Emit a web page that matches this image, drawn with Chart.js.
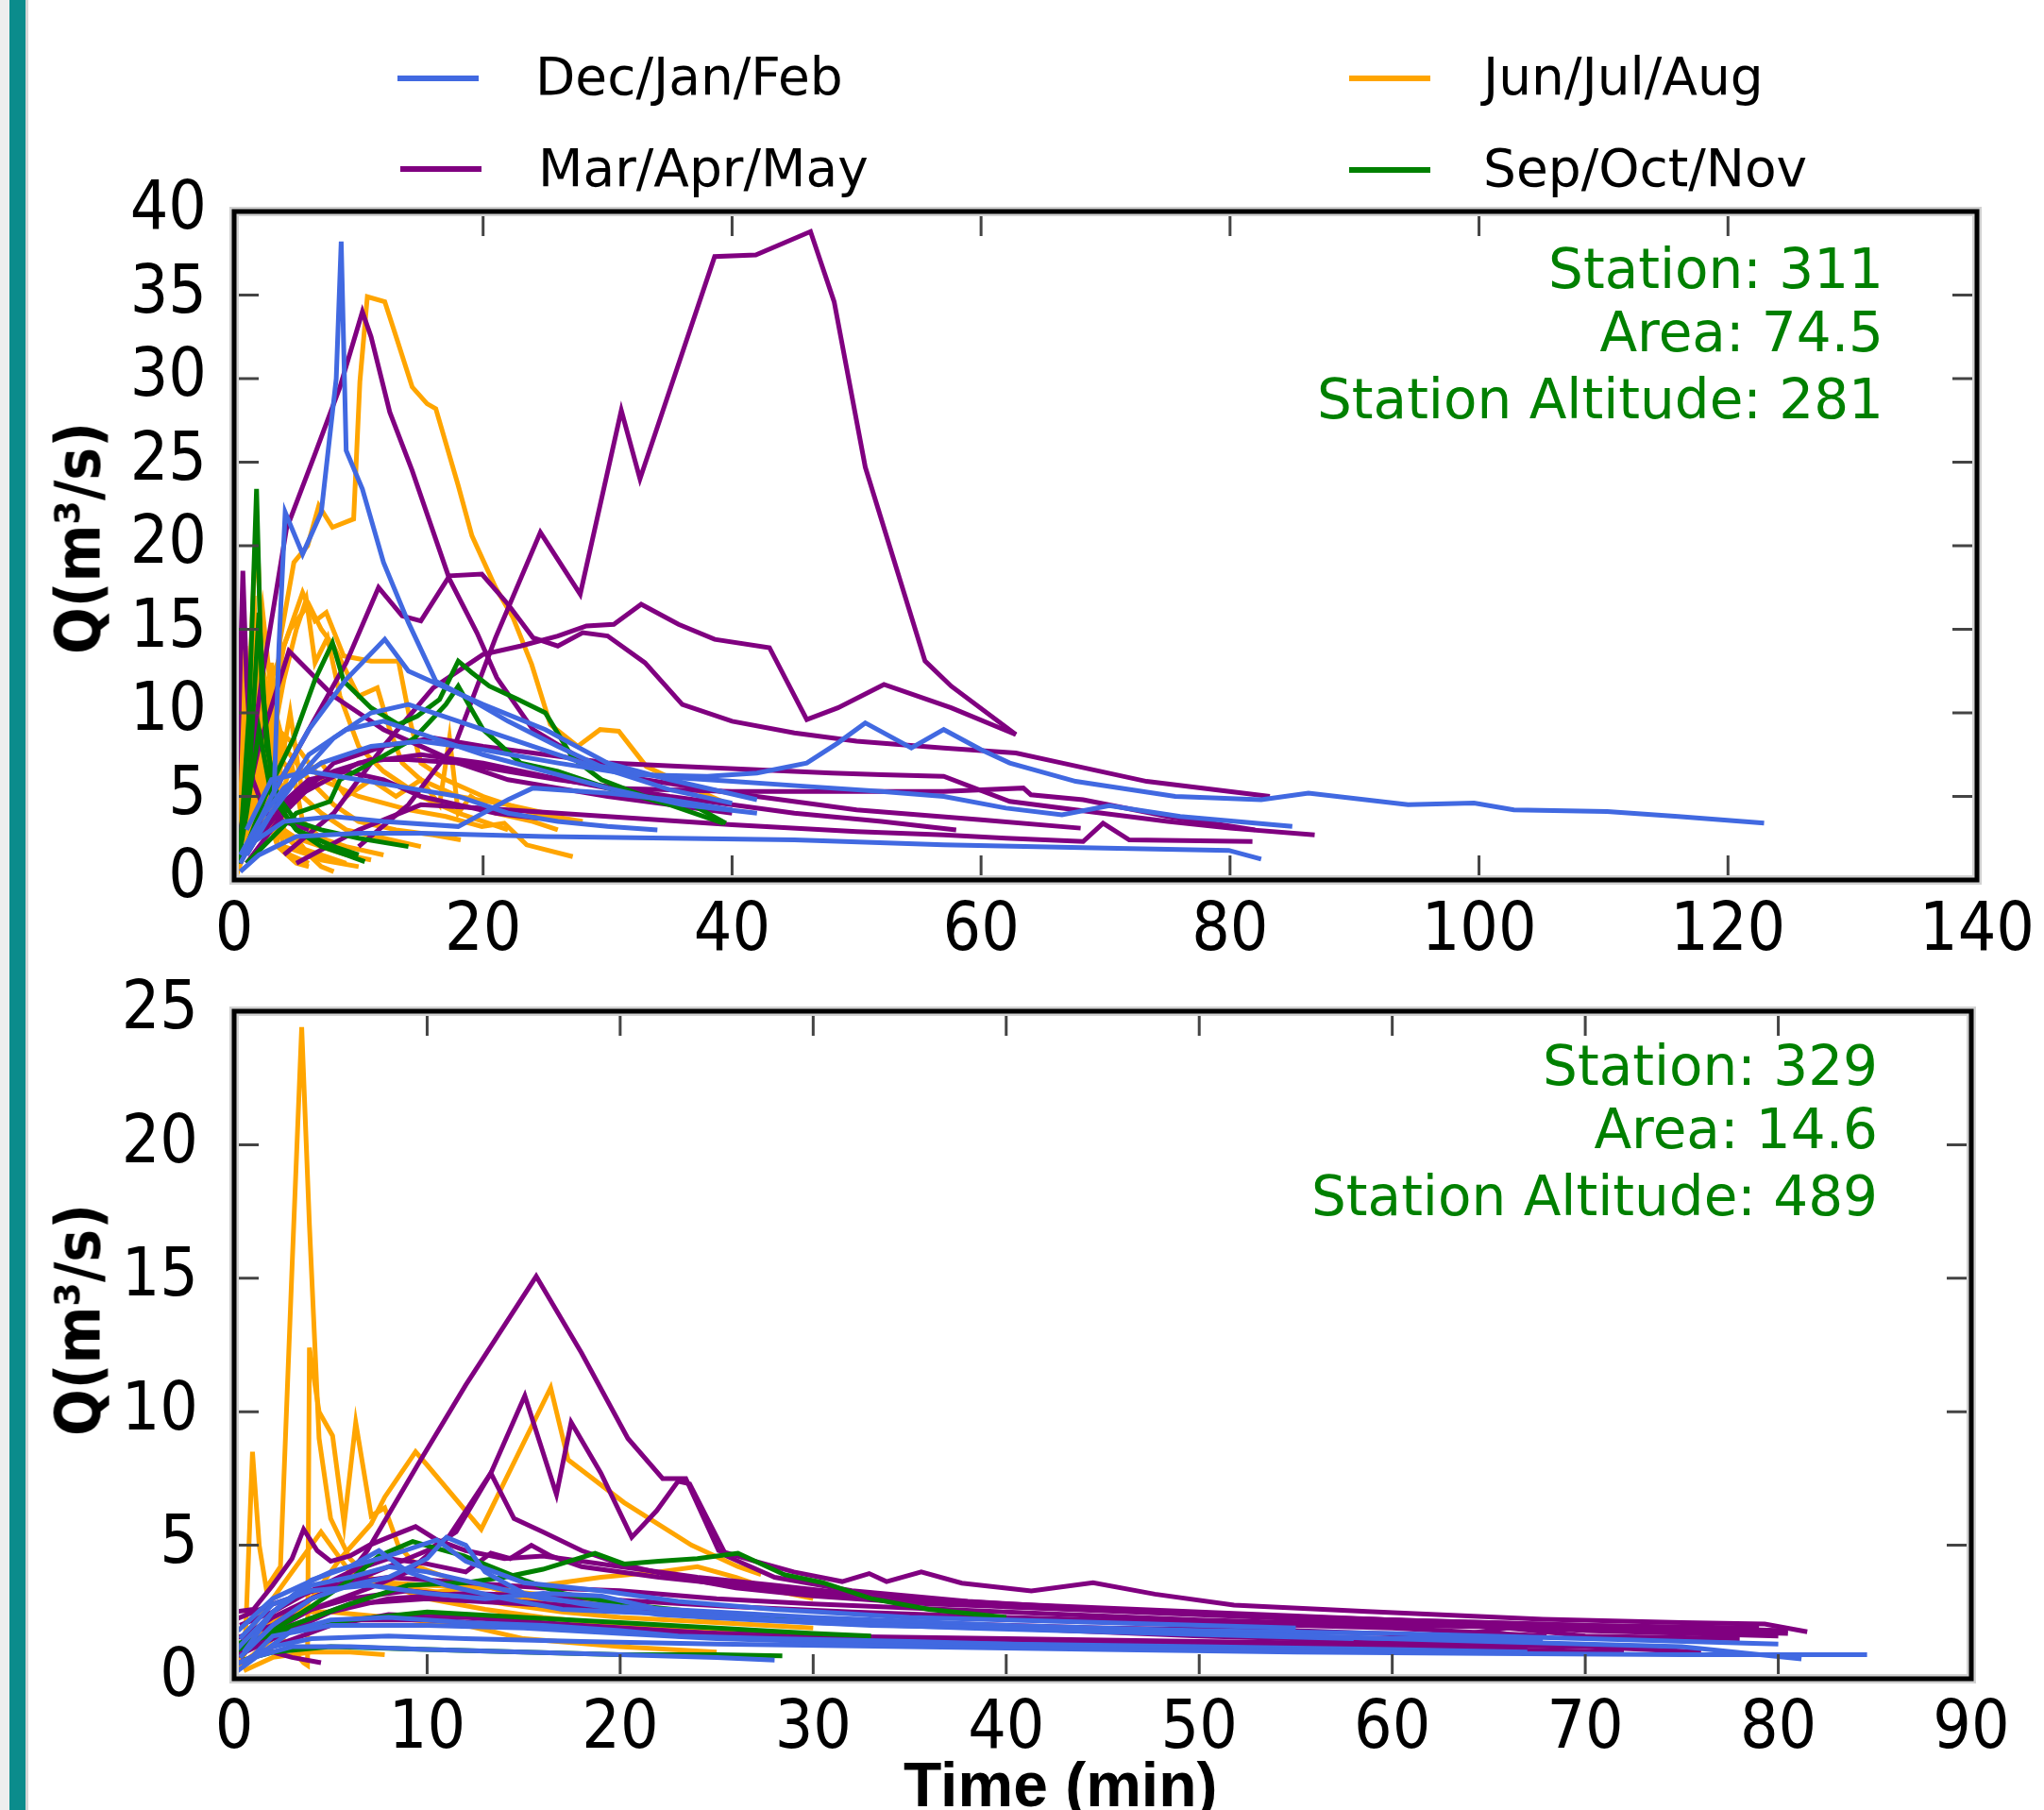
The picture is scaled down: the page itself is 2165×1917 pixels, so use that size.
<!DOCTYPE html>
<html>
<head>
<meta charset="utf-8">
<script src="https://cdn.jsdelivr.net/npm/chart.js@4.4.1/dist/chart.umd.min.js"></script>
<style>
html, body { margin: 0; padding: 0; background: #fff; }
body { width: 2165px; height: 1917px; position: relative; overflow: hidden; font-family: "DejaVu Sans", sans-serif; }
.abs { position: absolute; white-space: nowrap; line-height: 1; }
.info { color: #008000; font-size: 58px; text-align: right; }
.ytitle { font-weight: bold; font-size: 60px; transform: translate(-50%, -50%) rotate(-90deg); }
.leg-line { position: absolute; height: 6px; }
.leg-text { position: absolute; font-size: 55px; line-height: 1; white-space: nowrap; color: #000; }
</style>
</head>
<body>
<div class="abs" style="left:0;top:0;width:10px;height:1917px;background:#eeeeee"></div>
<div class="abs" style="left:10px;top:0;width:17px;height:1917px;background:#0b8c8c"></div>
<div class="abs" style="left:27px;top:0;width:3px;height:1917px;background:#d6d6d6"></div>

<div id="legend"></div>

<canvas id="topChart" width="2165" height="880" style="position:absolute;left:0;top:150px"></canvas>
<canvas id="bottomChart" width="2165" height="880" style="position:absolute;left:0;top:1000px"></canvas>

<div class="abs info" style="right:170px;top:256px">Station: 311</div>
<div class="abs info" style="right:170px;top:323px">Area: 74.5</div>
<div class="abs info" style="right:170px;top:394px">Station Altitude: 281</div>

<div class="abs info" style="right:176px;top:1100px">Station: 329</div>
<div class="abs info" style="right:176px;top:1167px">Area: 14.6</div>
<div class="abs info" style="right:176px;top:1238px">Station Altitude: 489</div>

<div class="abs ytitle" style="left:83px;top:570px">Q(m³/s)</div>
<div class="abs ytitle" style="left:83px;top:1398px">Q(m³/s)</div>
<div class="abs" style="left:957px;top:1857px;font-family:'Liberation Sans',sans-serif;font-weight:bold;font-size:66px">Time (min)</div>

<script>
// seasons and colours
const seasons = ["Dec/Jan/Feb", "Mar/Apr/May", "Jun/Jul/Aug", "Sep/Oct/Nov"];
const seasonColors = ["#4169E1", "#800080", "#FFA500", "#008000"];

// axis ticks
const topXTicks = [0, 20, 40, 60, 80, 100, 120, 140];
const topYTicks = [0, 5, 10, 15, 20, 25, 30, 35, 40];
const bottomXTicks = [0, 10, 20, 30, 40, 50, 60, 70, 80, 90];
const bottomYTicks = [0, 5, 10, 15, 20, 25];

// station 311 hydrographs: [time (min), Q (m3/s)]
const topDJF = [
  [[3.2,5],[3.6,14],[4.1,22],[5.5,19.5],[7,22],[8.2,30],[8.6,38.2],[9,25.7],[10.3,23.4],[12,19],[14,15.4],[16.2,11.9],[19,10.8],[22,9.5],[26,8],[30,6.6],[35,5.4],[40,4.6]],
  [[0.5,1.5],[2,3.5],[4,5.5],[7,7],[11,8],[15,8.3],[20,7.8],[26,7],[32,6.3],[38,6.2],[42,6.4],[46,7],[48.5,8.2],[50.7,9.4],[54.4,7.9],[57,9],[60,7.8],[62.3,7],[67.6,5.9],[75.6,5],[82.5,4.8],[86.3,5.2],[94.3,4.5],[99.6,4.6],[102.8,4.2],[110.3,4.1],[116,3.8],[122.9,3.4]],
  [[0.5,1],[2,3],[5,6],[8,8.5],[11,10],[14,10.5],[18,9.5],[22,8.5],[28,7],[34,6.2],[40,5.9],[46,5.6],[52,5.3],[57,5],[62,4.3],[66.5,3.9],[70.3,4.45],[76,3.8],[85,3.2]],
  [[0.5,0.5],[2,1.5],[5,2.6],[10,2.8],[15,2.8],[25,2.6],[35,2.5],[45,2.4],[57,2.1],[70,1.9],[79.9,1.77],[82.5,1.25]],
  [[1,2],[3,5],[6,9],[9,12],[12.1,14.4],[14,12.5],[17,11.5],[20,10.5],[25,9],[30,7],[35,6],[42,4.8]],
  [[1,1.5],[3,4],[6,7.5],[9,9],[12,9.5],[16,8.5],[20,7.5],[25,6.5],[30,5.5],[36,4.5],[42,4]],
  [[1,3],[3,6],[6,6.5],[10,6],[14,5.5],[18,5],[22,4],[26,3.5],[30,3.2],[34,3]],
  [[1,2],[4,3.5],[8,3.8],[12,3.5],[18,3.2],[22,4.8],[24,5.5],[30,5.2],[35,4.8],[40,4.2]]
];
const topMAM = [
  [[10,2],[14,4.5],[17.8,8.2],[21,14.5],[24.6,20.8],[27.8,17.1],[31.1,28.1],[32.6,24],[38.6,37.3],[41.9,37.4],[46.3,38.8],[48.2,34.6],[50.7,24.7],[55.5,13.1],[57.6,11.6],[62.8,8.7]],
  [[0.3,1.5],[2.2,11.9],[4.2,21],[6.5,25.5],[8.5,29.5],[10.3,34],[11,32.5],[12.5,28],[14.3,24.5],[17.3,18],[19.5,14.8],[21.1,12.1],[24,9],[28,7.2],[33,6],[40,5.2],[50,4.2],[60,3.6],[68,3.1]],
  [[0.5,1],[3,5],[6,9],[9,13],[11.6,17.5],[13.5,15.8],[15,15.5],[17.3,18.2],[19.9,18.3],[22,16.5],[24,14.5],[26,14],[28,14.8],[30,14.6],[33,13],[36,10.5],[40,9.5],[45,8.8],[50,8.3],[57,7.9],[62.8,7.6],[66.5,7],[73.3,5.9],[83.2,5]],
  [[4,1.5],[8,4],[12,8],[16,11.5],[20,13.5],[23,14],[26,14.6],[28.3,15.2],[30.5,15.3],[32.7,16.5],[35.7,15.3],[38.6,14.4],[43,13.9],[46,9.6],[48.5,10.3],[52.2,11.7],[57.6,10.3],[62.8,8.7]],
  [[1,1],[4,4],[8,7],[12,8],[16,8.5],[20,8],[25,7.5],[30,7],[36,6.8],[42,6.6],[48,6.4],[52,6.3],[57,6.2],[62.3,4.7],[67.6,4.2],[75,3.5],[80,3.1],[86.8,2.7]],
  [[1,2],[5,5],[10,7],[15,7.5],[20,7],[25,6.2],[30,5.5],[40,5.3],[50,5.3],[57,5.3],[63.4,5.5],[64,5.1],[68.2,4.8],[75,3.8],[82,3]],
  [[5,1],[10,3],[15,4.5],[20,4.3],[30,3.8],[40,3.3],[50,2.9],[57,2.7],[62,2.5],[68.2,2.3],[69.8,3.4],[71.9,2.4],[81.8,2.3]],
  [[0.5,3],[2,8],[4.4,13.7],[6,12.5],[8,11],[10,10],[12,9],[15,8],[18,7],[22,6],[26,5.5],[30,5],[35,4.5],[40,4]],
  [[0,2],[0.4,10],[0.7,18.5],[1,12],[1.5,6],[2.5,4],[4,3.5],[6,3]],
  [[1,1.5],[3,4],[6,6],[9,6.5],[12,6],[15,5],[18,4.5],[21,4],[24.4,3.7]],
  [[0,1.2],[1,1.8],[2.5,3],[4,4.5],[6,5.8],[8,6.5],[11,7.2],[14,7.2],[18,7],[22,6.5],[26,6],[30,5.6],[35,5],[40,4.5],[45,4],[52,3.5],[58,3]]
];
const topJJA = [
  [[2.5,3],[3.2,9],[3.7,14.4],[4.8,19],[5.9,20],[6.8,22.4],[7.9,21.1],[9.6,21.6],[10.1,29.8],[10.7,34.9],[12.1,34.6],[13.1,32.3],[14.3,29.5],[15.5,28.5],[16.2,28.2],[18,23.6],[19.1,20.6],[21,17.5],[22.4,15.7],[23.9,12.9],[25.4,9.3],[27.6,8],[29.4,9],[30.9,8.9],[33.1,6.8],[36.8,5.5],[39.5,4.6]],
  [[1,2],[2,6],[3,10],[4,14],[5.5,17.2],[6.5,15.5],[7.4,16],[8.8,13.4],[11,13.1],[13.2,13.1],[14.2,9.3],[15,7],[17,6],[20,5],[24,4],[28,3.5]],
  [[0.5,2],[1.5,7],[2.5,12],[3.5,9],[5,8],[7,6],[10,5],[14,4.2],[17,3.8],[19.9,3.2],[21.7,3.4],[23.5,2.1],[27.2,1.4]],
  [[0.5,3],[1.5,10],[2.3,16],[3,11],[4,8],[6,6],[8,4.5],[10,3.5],[13,3],[16,2.7],[18.2,2.4]],
  [[1,3],[2,8],[3,12],[4.5,15],[6,16.5],[7,15],[8,14],[9,12.5],[10,11],[11.5,11.5],[12.5,9],[13.5,7],[15,6],[18,5],[22,4.5],[25,4]],
  [[1,5],[2,12],[3,8],[5,6],[7,7],[9,5],[11,6],[13,5],[15,6],[16.5,4.5],[17.3,8.5],[18,4],[19,5],[21,4],[24,3.5],[26,3]],
  [[0.3,1],[1,8],[1.8,21.5],[2.2,14],[2.8,6],[3.5,3],[5,2],[7,1.5],[9,1]],
  [[0.2,0.3],[1,2],[2,5],[3,4],[4,3],[5,2.5],[6,1.5],[7,0.8],[8,0.5]],
  [[0.2,1],[0.8,6],[1.3,13],[1.8,9],[2.5,5],[3.5,3],[5,2.5],[7,2],[9,1.5],[11,1.2]],
  [[0.1,0.5],[0.5,5],[0.9,14],[1.2,8],[1.6,17],[2,7],[2.6,4],[3.5,2],[5,1],[6,0.8]],
  [[0.2,2],[0.7,12],[1.1,6],[1.5,11],[2,5],[2.8,9],[3.3,4],[4,2],[6,1.5],[8,1.2]],
  [[2,3],[3,8],[4,12],[5,15],[5.8,16.8],[6.5,13],[7.5,14.5],[8.5,11],[10,8],[12,6.5],[15,5],[18,4],[22,3]],
  [[0.3,1],[1,4],[1.7,10],[2.4,6],[3,13],[3.8,7],[4.5,10],[5.5,5],[7,4],[9,3],[12,2.5],[15,2]],
  [[0,0.5],[0.4,9],[0.8,3],[1.2,12],[1.6,4],[2.1,10],[2.5,3],[3,8],[3.5,2],[4.5,1.5],[6,1]],
  [[0.1,2],[0.6,7],[1,2],[1.4,9],[1.9,3],[2.4,11],[2.9,4],[3.4,6],[4,3],[5,2],[7,1.2],[10,0.8]],
  [[0,1],[0.5,4],[1,10],[1.5,5],[2,13],[2.6,6],[3.2,10],[3.8,5],[4.6,7],[5.5,3.5],[7,2.5],[9,2],[12,1.5]]
];
const topSON = [
  [[0.5,2],[1.2,10],[1.8,23.4],[2.2,12],[3,6],[4,4],[5,3],[7,2],[9,1.5],[10.5,1.1]],
  [[1,2],[2.5,5],[4.8,8.5],[6.5,12],[7.9,14.2],[8.8,11.9],[11,10.3],[13.2,9.3],[14.7,9.8],[16.5,10.8],[18,13.1],[19.1,12.4],[20.5,11.6],[22.8,10.8],[25,10],[27.2,7.3],[29.5,6],[33,5],[36.8,4.5],[39.5,3.4]],
  [[1,1],[3,2.5],[5,4],[7.7,4.7],[8.5,6],[11,7],[14.5,8.5],[17,10.5],[18,11.6],[20,9],[23,7],[26,6.5],[30,5.5],[35,4.5],[39.3,3.4]],
  [[0.3,1],[1,4],[2,9],[3,5],[5,3],[8,2],[10,1.5]],
  [[0.3,1],[1.2,6],[2,16],[2.6,8],[3.5,5],[5,3.5],[7,3],[10,2.5],[14,2]]
];

// station 329 hydrographs
const bottomDJF = [
  [[0,0.5],[2,1.2],[4,1.5],[8,1.6],[12,1.5],[18,1.4],[25,1.3],[35,1.2],[45,1.1],[55,1],[65,0.95],[75,0.9],[84.6,0.9]],
  [[0.3,0.8],[2,2],[4,3],[6,3.5],[8,3.8],[10,4.5],[11,5.3],[12,5],[13,4],[15,3.2],[18,2.8],[22,2.4],[27,2.2],[33,2],[40,1.9],[50,1.7],[60,1.5],[67.8,1.5]],
  [[0.5,1],[2,2.5],[4,3.7],[6,4.2],[7.5,4.8],[9,4],[11,3.5],[14,3],[17,2.6],[20,2.5],[24,2.4],[28,2.2],[35,2],[45,1.8],[55,1.6],[65,1.4],[75,1.2],[81.2,0.74]],
  [[0,0.2],[1.5,1],[3,1.8],[5,2.2],[8,2.3],[12,2.1],[16,2],[20,1.8],[23,1.6],[28,1.5],[35,1.4],[45,1.2],[55,1.1],[62,1]],
  [[0.3,1.5],[2,2.8],[4,3.3],[7,3.5],[10,3.2],[13,3],[16,3.2],[19,3.1],[22,2.6],[26,2.3],[30,2.1],[38,1.9],[48,1.7],[58,1.5]],
  [[1,0.8],[3,1.2],[6,1.2],[10,1.1],[15,1],[20,0.9],[25,0.8],[28,0.7]],
  [[0,1],[2,2.5],[4,3.5],[6,3.8],[8,4.2],[10,4],[13,3.5],[16,3],[20,2.7],[25,2.5],[30,2.3],[40,2],[50,1.8],[60,1.7],[70,1.5],[80,1.3]],
  [[0.5,0.5],[2,1.6],[5,2],[10,2],[15,1.9],[20,1.7],[25,1.5],[30,1.4],[40,1.3],[50,1.2],[60,1.1],[67,1]],
  [[0.2,1.8],[2,3],[5,4],[8,4.6],[10.5,5.2],[12,4.4],[15,3.6],[19,3.3],[23,2.9],[28,2.6],[35,2.3],[45,2.1],[55,1.9]]
];
const bottomMAM = [
  [[0.3,0.8],[2,2],[4,3],[5.5,3.5],[6.9,4.8],[9.5,8],[12,11],[15.65,15.07],[18,12.2],[20.4,9],[22.2,7.5],[23.4,7.5],[25.1,4.8],[27,4.4],[29,4],[31.5,3.64],[32.9,3.94],[33.8,3.64],[35.6,4],[37.7,3.58],[41.3,3.29],[44.5,3.6],[47.7,3.17],[51.8,2.76],[58.7,2.52],[67.8,2.23],[75,2.1],[79.3,2.05],[81.5,1.76]],
  [[0.2,1],[2,1.8],[4,2.6],[7,3.4],[9,4],[11.1,5.3],[13.3,7.7],[15.06,10.6],[16.7,6.9],[17.46,9.6],[19,7.7],[20.6,5.3],[21.9,6.3],[23,7.4],[23.6,7.3],[25.5,4.6],[28,3.8],[32,3.3],[38,2.9],[45,2.6],[55,2.3],[65,2.1],[75,1.9],[80.5,1.8]],
  [[0.3,1.5],[2,2.3],[4,3],[6,3.6],[8,4.2],[10,4.8],[11.5,5.5],[13.3,7.7],[14.5,6],[16,5.5],[18,4.8],[20,4.3],[23,3.8],[26,3.4],[30,3.1],[36,2.8],[44,2.6],[52,2.4],[60,2.2],[70,2],[79,1.9]],
  [[0,2.5],[1,2.6],[2,3.5],[3,4.5],[3.6,5.6],[4.3,4.8],[5,4.4],[6,4.6],[7,5],[8,5.3],[9.4,5.7],[10.5,5.2],[12,4.8],[14,4.5],[16,4.6],[18,4.4],[20,4.2],[24,3.8],[28,3.5],[33,3.1],[40,2.8],[50,2.5],[60,2.2],[70,1.8],[80,1.6]],
  [[0.3,2],[2,2.5],[4,3.3],[6,4],[8,4.5],[10,4.3],[12,4],[13.3,4.7],[14.3,4.5],[15.4,5],[16.4,4.6],[18,4.2],[22,3.8],[26,3.5],[30,3.2],[35,3],[40,2.7],[50,2.4],[60,2.1],[70,1.9],[80.5,1.7]],
  [[2,1],[3,0.8],[4.5,0.6]],
  [[0,0.5],[2,1.2],[5,2],[8,2.4],[12,2.3],[18,2],[25,1.7],[35,1.5],[45,1.3],[55,1.2],[65,1.1],[72,1]],
  [[0,1.5],[2,2],[4,2.6],[6,3],[9,3.3],[13,3],[18,2.7],[25,2.4],[35,2.1],[45,1.9],[55,1.8],[63,1.6],[66,1.9],[70,1.6],[78,1.5]],
  [[0.5,1],[3,2],[6,2.8],[10,3],[15,2.8],[22,2.5],[30,2.2],[40,1.9],[50,1.6],[60,1.4],[67,1.2]],
  [[0,2.2],[2,2.8],[5,3.5],[8,3.8],[12,3.6],[16,3.4],[20,3.3],[25,3],[30,2.8],[40,2.5],[50,2.2],[60,2],[70,1.9],[78,1.7]],
  [[0.3,1],[3,1.8],[6,2.2],[10,2.2],[15,2],[20,1.8],[30,1.6],[40,1.5],[50,1.4],[60,1.3],[70,1.2],[76,1]],
  [[0,0.8],[2,1.5],[5,2.5],[8,3],[12,3.2],[16,3.1],[21,2.9],[26,2.7],[32,2.5],[40,2.3],[50,2.1],[60,1.9],[68,1.6]]
];
const bottomJJA = [
  [[0,0.2],[0.6,1.8],[0.95,8.5],[1.3,5],[1.66,3.4],[2.4,4.2],[3,15.4],[3.5,24.4],[3.9,17],[4.4,9],[5,6],[6,4.5],[7,3.8],[8,3.5],[10,3],[13,2.6],[16,2.3],[20,2],[24,1.8],[28,1.6]],
  [[0.2,0.5],[1.5,1],[2.5,1.5],[3.6,0.6],[3.8,0.5],[3.9,12.4],[4.4,10],[5.1,9.1],[5.7,5.8],[6.3,9.6],[7.1,6.1],[7.8,6.4],[8.5,5],[9.5,4.2],[11,3.8],[14,3.3],[18,3],[22,2.6],[25,2.2]],
  [[0.3,0.5],[2,1.5],[4,3],[5.5,4.5],[7.1,5.8],[7.8,6.8],[9.4,8.5],[10,8],[12.8,5.6],[16.4,10.9],[17.3,8.2],[20.2,6.6],[23.7,5],[26.1,4.2],[27.3,3.9]],
  [[0.2,0.5],[1,1.5],[2,2.5],[3,3],[4,3.3],[6,3.5],[8,3.6],[10,3.5],[13,3.4],[16,3.5],[19,3.8],[22,4],[24,4.2],[26,3.8],[28,3.3],[30,3]],
  [[0.5,0.3],[2,0.8],[4,1],[6,1],[7.8,0.9]],
  [[0,1],[1.5,2],[3,2.5],[5,2.5],[8,2.3],[12,2],[15,1.5],[20,1.2],[25,1]],
  [[0.3,1],[2,2],[4,3],[6,3.6],[8,3.5],[11,3.2],[14,2.8],[17,2.5],[20,2.3],[25,2.1],[30,1.9]],
  [[0.5,1.5],[2,3],[3.5,4.5],[4.5,5.5],[6,4],[8,3.5],[10,3.2],[13,3.5],[15,3],[18,2.8],[22,2.5]]
];
const bottomSON = [
  [[0,1],[2,1.8],[4,2.7],[6,3.7],[7.5,4.6],[9.25,5.14],[10.4,4.9],[11.9,4.6],[13.3,4.2],[15,3.7],[17,3.2],[20,2.8],[24,2.5],[28,2.3],[32,2.2],[35,2]],
  [[0.3,1.2],[3,2],[6,2.8],[9,3.5],[12,3.6],[14,3.8],[16,4.1],[18.7,4.7],[20.2,4.3],[22,4.4],[24,4.5],[26.1,4.7],[28.5,3.9],[30.5,3.6],[33,3],[36,2.6],[40,2.3]],
  [[0.5,0.7],[2,1],[5,1.2],[10,1.1],[15,1],[20,0.9],[25,0.9],[28.4,0.86]],
  [[0,1.3],[3,1.8],[6,2.2],[10,2.5],[15,2.3],[20,2.1],[25,1.9],[30,1.7],[33,1.6]]
];

// blue first, then green, purple, orange on top
const drawOrder = [0, 3, 1, 2];

function hasFont(name) {
  const c = document.createElement("canvas").getContext("2d");
  c.font = "40px monospace";
  const a = c.measureText("140 Qm/s").width;
  c.font = '40px "' + name + '", monospace';
  return c.measureText("140 Qm/s").width !== a;
}
const condensed = hasFont("DejaVu Sans Condensed");
const tickFont = condensed ? { family: '"DejaVu Sans Condensed"', size: 71 } : { family: '"DejaVu Sans"', size: 64 };
if (condensed) {
  document.querySelectorAll(".ytitle").forEach(el => {
    el.style.fontFamily = '"DejaVu Sans Condensed"';
    el.style.fontSize = "65px";
  });
}

// legend
const legendSpots = [[421, 83, 567, 54], [424, 179, 570, 151], [1429, 83, 1571, 54], [1429, 180, 1571, 151]];
const legend = document.getElementById("legend");
seasons.forEach((name, i) => {
  const [lx, ly, tx, ty] = legendSpots[i];
  const line = document.createElement("div");
  line.className = "leg-line";
  line.style.cssText += `left:${lx}px;top:${ly - 3}px;width:86px;background:${seasonColors[i]}`;
  const txt = document.createElement("div");
  txt.className = "leg-text";
  txt.style.left = tx + "px";
  txt.style.top = ty + "px";
  txt.textContent = name;
  legend.appendChild(line);
  legend.appendChild(txt);
});

// frame with inward ticks on all four sides
const framePlugin = {
  id: "frame",
  afterDatasetsDraw(chart) {
    const { ctx, chartArea: a, scales } = chart;
    const len = 26;
    ctx.save();
    ctx.strokeStyle = "#444";
    ctx.lineWidth = 3;
    ctx.beginPath();
    scales.x.ticks.forEach(t => {
      const px = scales.x.getPixelForValue(t.value);
      ctx.moveTo(px, a.bottom); ctx.lineTo(px, a.bottom - len);
      ctx.moveTo(px, a.top); ctx.lineTo(px, a.top + len);
    });
    scales.y.ticks.forEach(t => {
      const py = scales.y.getPixelForValue(t.value);
      ctx.moveTo(a.left, py); ctx.lineTo(a.left + len, py);
      ctx.moveTo(a.right, py); ctx.lineTo(a.right - len, py);
    });
    ctx.stroke();
    ctx.lineWidth = 10;
    ctx.strokeStyle = "#d2d2d2";
    ctx.strokeRect(a.left, a.top, a.right - a.left, a.bottom - a.top);
    ctx.lineWidth = 5;
    ctx.strokeStyle = "#000";
    ctx.strokeRect(a.left, a.top, a.right - a.left, a.bottom - a.top);
    ctx.restore();
  }
};

function buildChart(id, groups, xTicks, yTicks, box) {
  const datasets = [];
  drawOrder.forEach(si => {
    groups[si].forEach(ev => {
      datasets.push({
        label: seasons[si],
        data: ev.map(p => ({ x: p[0], y: p[1] })),
        borderColor: seasonColors[si],
        borderWidth: 5,
        pointRadius: 0,
        tension: 0,
        fill: false
      });
    });
  });
  return new Chart(document.getElementById(id), {
    type: "line",
    data: { datasets },
    options: {
      responsive: false,
      animation: false,
      devicePixelRatio: 1,
      layout: { padding: { top: box.top, right: box.right, left: 0, bottom: 0 } },
      plugins: { legend: { display: false }, tooltip: { enabled: false } },
      scales: {
        x: {
          type: "linear",
          min: xTicks[0],
          max: xTicks[xTicks.length - 1],
          afterBuildTicks: s => { s.ticks = xTicks.map(v => ({ value: v })); },
          afterFit: s => { s.height = box.xh; s.paddingLeft = 0; s.paddingRight = 0; },
          grid: { display: false, drawTicks: false },
          border: { display: false },
          ticks: { color: "#000", font: tickFont, padding: box.xpad, maxRotation: 0, autoSkip: false }
        },
        y: {
          type: "linear",
          min: yTicks[0],
          max: yTicks[yTicks.length - 1],
          afterBuildTicks: s => { s.ticks = yTicks.map(v => ({ value: v })); },
          afterFit: s => { s.width = 248; s.paddingTop = 0; s.paddingBottom = 0; },
          grid: { display: false, drawTicks: false },
          border: { display: false },
          ticks: { color: "#000", font: tickFont, padding: box.ypad, autoSkip: false }
        }
      }
    },
    plugins: [framePlugin]
  });
}

buildChart("topChart", [topDJF, topMAM, topJJA, topSON], topXTicks, topYTicks,
  { top: 74, right: 71, xh: 98, xpad: 13, ypad: 29 });
buildChart("bottomChart", [bottomDJF, bottomMAM, bottomJJA, bottomSON], bottomXTicks, bottomYTicks,
  { top: 71, right: 77, xh: 102, xpad: 12, ypad: 38 });
</script>
</body>
</html>
